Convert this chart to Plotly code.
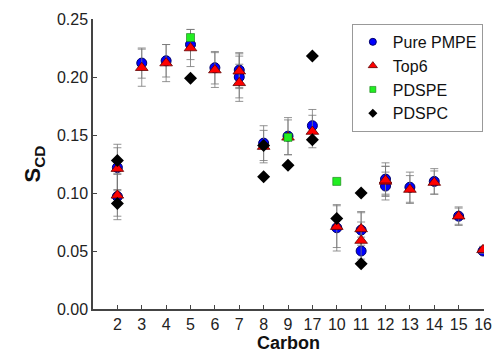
import plotly.graph_objects as go

carbons = ["2", "3", "4", "5", "6", "7", "8", "9", "17", "10", "11", "12", "13", "14", "15", "16"]

pmpe_x = ["2", "2", "3", "4", "5", "6", "7", "7", "8", "9", "17", "10", "11", "11", "12", "12", "13", "14", "15", "16"]
pmpe_y = [0.122, 0.097, 0.212, 0.214, 0.228, 0.208, 0.206, 0.200, 0.143, 0.149, 0.158, 0.070, 0.068, 0.050, 0.112, 0.106, 0.105, 0.110, 0.080, 0.050]
pmpe_err = [0.020, 0.020, 0.013, 0.014, 0.013, 0.014, 0.015, 0.018, 0.015, 0.016, 0.014, 0.020, 0.016, 0.012, 0.014, 0.012, 0.013, 0.011, 0.008, 0.003]

top6_x = ["2", "2", "3", "4", "5", "6", "7", "7", "8", "9", "17", "10", "11", "11", "12", "12", "13", "14", "15", "16"]
top6_y = [0.121, 0.098, 0.208, 0.212, 0.225, 0.206, 0.205, 0.195, 0.140, 0.148, 0.153, 0.071, 0.069, 0.059, 0.110, 0.111, 0.103, 0.109, 0.080, 0.051]
top6_err = [0.018, 0.018, 0.016, 0.016, 0.016, 0.015, 0.015, 0.016, 0.014, 0.015, 0.014, 0.018, 0.014, 0.016, 0.013, 0.012, 0.012, 0.010, 0.007, 0.003]

pdspe_x = ["5", "9", "10"]
pdspe_y = [0.234, 0.148, 0.110]

pdspc_x = ["2", "2", "5", "8", "8", "9", "17", "17", "10", "11", "11"]
pdspc_y = [0.128, 0.091, 0.199, 0.141, 0.114, 0.124, 0.218, 0.146, 0.078, 0.100, 0.039]

series_names = ["Pure PMPE", "Top6", "PDSPE", "PDSPC"]
yticks = [0.0, 0.05, 0.10, 0.15, 0.20, 0.25]

errstyle = dict(type="data", color="rgba(120,120,120,0.8)", thickness=1, width=4)

styles = [
    dict(symbol="circle", color="#0000ff", line=dict(color="#00006a", width=1)),
    dict(symbol="triangle-up", color="#ff0000", line=dict(color="#600000", width=0.8)),
    dict(symbol="square", color="#22ee22", line=dict(color="#117711", width=0.6)),
    dict(symbol="diamond", color="#000000", line=dict(color="#000000", width=0)),
]
sizes = [10, 11, 8, 10]
legend_sizes = [7, 8, 6, 7]

xs = [pmpe_x, top6_x, pdspe_x, pdspc_x]
ys = [pmpe_y, top6_y, pdspe_y, pdspc_y]
errs = [pmpe_err, top6_err, None, None]

fig = go.Figure()
for i, name in enumerate(series_names):
    kw = {}
    if errs[i] is not None:
        kw["error_y"] = dict(array=errs[i], **errstyle)
    fig.add_trace(go.Scatter(x=xs[i], y=ys[i], mode="markers", name=name, showlegend=False,
                             legendgroup=name, marker=dict(size=sizes[i], **styles[i]), **kw))
# legend entries with smaller symbols
for i, name in enumerate(series_names):
    fig.add_trace(go.Scatter(x=[None], y=[None], mode="markers", name=name, legendgroup=name,
                             marker=dict(size=legend_sizes[i], **styles[i])))

font_family = "Liberation Sans, Arial, sans-serif"

fig.update_layout(
    width=503, height=361,
    margin=dict(l=93, r=11, t=18, b=49),
    plot_bgcolor="white", paper_bgcolor="white",
    font=dict(family=font_family, size=14, color="#222222"),
    showlegend=True,
    legend=dict(x=0.662, y=0.983, xanchor="left", yanchor="top",
                bgcolor="white", bordercolor="#999999", borderwidth=1,
                font=dict(size=16, color="#111111"), tracegroupgap=0,
                itemwidth=30, itemsizing="trace"),
    xaxis=dict(
        type="category", categoryorder="array", categoryarray=carbons,
        range=[-1, 15.04], showline=True, linecolor="#444444", linewidth=1.5,
        ticks="inside", ticklen=4, tickcolor="#444444", showgrid=False, zeroline=False,
        tickfont=dict(size=16, color="#222222"),
        title=dict(text="<b>Carbon</b>", font=dict(size=18, color="#111111"), standoff=4)),
    yaxis=dict(
        range=[0, 0.25], tickvals=yticks, tickformat=".2f",
        showline=True, linecolor="#444444", linewidth=1.5,
        ticks="inside", ticklen=4, tickcolor="#444444", showgrid=False, zeroline=False,
        tickfont=dict(size=16, color="#222222"),
        title=dict(text="<b>S<sub>CD</sub></b>", font=dict(size=22, color="#111111"), standoff=10)),
)

fig.write_html("out.html")
